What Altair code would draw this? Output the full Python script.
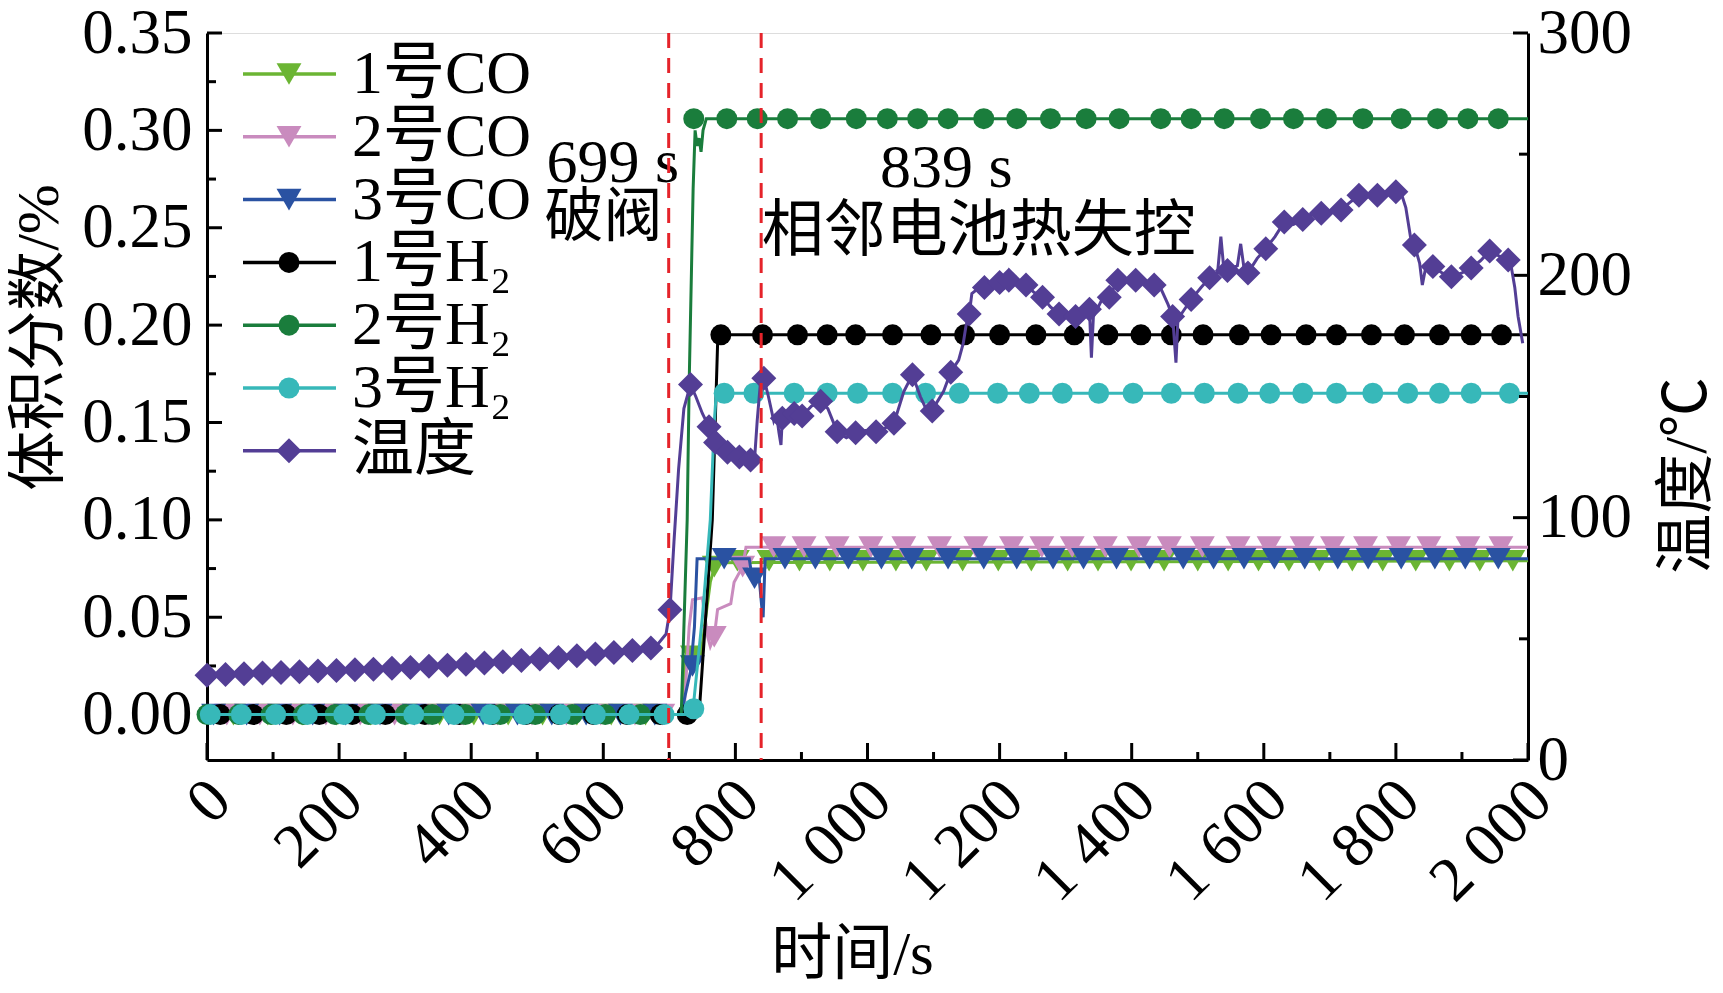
import altair as alt
import pandas as pd

FONT = "Liberation Serif, Noto Sans CJK SC"
W, H = 1321, 727

# ---------------- data ----------------
names = ["1号CO", "2号CO", "3号CO", "1号H₂", "2号H₂", "3号H₂"]
colors = ["#6BB533", "#C98BBE", "#2A52A2", "#000000", "#1A7D3C", "#37B8B9"]
shapes = ["triangle-down", "triangle-down", "triangle-down", "circle", "circle", "circle"]
temp_name = "温度"
temp_color = "#533E95"

# 1号CO
co1_t = [0, 720, 724, 748, 755, 762, 770, 2000]
co1_v = [0, 0, 0.030, 0.031, 0.050, 0.068, 0.078, 0.079]
co1_mt = [40, 92, 144, 196, 248, 300, 352, 404, 456, 508, 560, 612, 664, 735, 768,
          803, 851, 897, 943, 993, 1043, 1089, 1144, 1198, 1248, 1303, 1349, 1399, 1449,
          1500, 1546, 1592, 1638, 1684, 1734, 1780, 1830, 1881, 1927, 1977]
co1_mv = [0] * 13 + [0.030, 0.076] + [0.079] * 25

# 2号CO
co2_t = [0, 722, 730, 735, 750, 758, 762, 768, 773, 793, 798, 811, 816, 2000]
co2_v = [0, 0, 0.045, 0.059, 0.060, 0.040, 0.035, 0.040, 0.054, 0.057, 0.068, 0.076, 0.086, 0.086]
co2_mt = [30, 80, 130, 180, 232, 284, 336, 388, 440, 492, 544, 596, 648, 690, 768, 811,
          858, 904, 954, 1005, 1055, 1109, 1164, 1218, 1264, 1310, 1360, 1411, 1457, 1507,
          1561, 1608, 1658, 1704, 1754, 1804, 1850, 1909, 1959]
co2_mv = [0] * 14 + [0.040, 0.076] + [0.086] * 23

# 3号CO
co3_t = [0, 718, 724, 732, 738, 742, 821, 825, 836, 840, 842, 845, 2000]
co3_v = [0, 0, 0.010, 0.022, 0.045, 0.080, 0.080, 0.071, 0.070, 0.055, 0.050, 0.080, 0.080]
co3_mt = [10, 60, 110, 160, 210, 262, 314, 366, 418, 470, 522, 574, 626, 678, 735, 783, 829,
          875, 921, 971, 1021, 1067, 1122, 1176, 1226, 1281, 1327, 1377, 1427, 1478, 1524,
          1570, 1616, 1662, 1712, 1758, 1808, 1859, 1905, 1955]
co3_mv = [0] * 14 + [0.025, 0.080, 0.070] + [0.080] * 23

# 1号H2
h1_t = [0, 745, 765, 773, 776, 2000]
h1_v = [0, 0, 0.100, 0.190, 0.195, 0.195]
h1_mt = [20, 70, 120, 170, 220, 270, 330, 382, 432, 483, 533, 585, 636, 686, 727,
         778, 841, 894, 939, 982, 1038, 1096, 1147, 1200, 1255, 1313, 1364, 1414, 1460,
         1508, 1563, 1611, 1664, 1710, 1763, 1813, 1866, 1914, 1960]
h1_mv = [0] * 15 + [0.195] * 24

# 2号H2
h2_t = [0, 718, 727, 730, 736, 739, 742, 745, 748, 751, 756, 2000]
h2_v = [0, 0, 0.100, 0.170, 0.270, 0.300, 0.292, 0.296, 0.289, 0.300, 0.306, 0.306]
h2_mt = [0, 48, 97, 146, 194, 245, 300, 341, 391, 444, 497, 553, 603, 656,
         737, 787, 833, 879, 929, 983, 1030, 1076, 1122, 1176, 1226, 1277, 1331, 1381,
         1444, 1490, 1540, 1595, 1645, 1695, 1750, 1808, 1863, 1909, 1955]
h2_mv = [0] * 14 + [0.306] * 25

# 3号H2
h3_t = [0, 735, 750, 762, 768, 771, 2000]
h3_v = [0, 0, 0.050, 0.100, 0.150, 0.165, 0.165]
h3_mt = [5, 52, 104, 152, 207, 255, 313, 374, 429, 480, 535, 588, 639, 692, 737,
         783, 828, 889, 939, 985, 1038, 1088, 1139, 1197, 1245, 1295, 1350, 1402, 1460,
         1510, 1561, 1609, 1659, 1710, 1765, 1818, 1866, 1914, 1972]
h3_mv = [0] * 14 + [0.003] + [0.165] * 24

# temperature (right axis)
temp_t = [0, 50, 100, 150, 200, 250, 300, 350, 400, 450, 500, 550, 600, 650, 680, 695, 701,
          707, 714, 722, 732, 740, 750, 760, 770, 779, 788, 797, 806, 815, 823, 829, 833,
          838, 843, 850, 858, 862, 866, 869, 871, 880, 889, 895, 901, 915, 929, 940, 954,
          968, 982, 997, 1013, 1027, 1040, 1055, 1068, 1080, 1090, 1098, 1106, 1115, 1126,
          1138, 1145, 1149, 1154, 1158, 1165, 1177, 1189, 1200, 1207, 1212, 1214, 1218,
          1227, 1240, 1252, 1265, 1277, 1290, 1303, 1315, 1326, 1336, 1339, 1342, 1355,
          1366, 1379, 1393, 1406, 1420, 1434, 1445, 1455, 1462, 1467, 1470, 1480, 1490,
          1505, 1518, 1530, 1535, 1540, 1545, 1560, 1565, 1570, 1576, 1590, 1603, 1617,
          1631, 1645, 1659, 1673, 1687, 1700, 1717, 1730, 1744, 1758, 1772, 1786, 1800,
          1808, 1815, 1822, 1828, 1836, 1840, 1845, 1856, 1870, 1884, 1900, 1914, 1928,
          1942, 1956, 1970, 1975, 1980, 1985, 1992]
temp_v = [35, 35.5, 36, 36.5, 37, 37.6, 38.3, 39.1, 40, 41, 42, 43.2, 44.4, 45.6, 47, 52, 62,
          90, 120, 145, 155, 150, 143, 137.5, 131, 128, 127, 126, 125, 124, 123.8, 124, 140,
          156, 157.5, 150, 140, 143, 135, 130, 141, 144, 143, 140, 142, 146, 148, 145, 135.5,
          133, 135, 136, 135.5, 137, 139, 152, 159, 150, 144, 144, 148, 152, 160,
          165, 172, 179, 184, 192.5, 194, 195, 196, 197, 195, 199, 201, 197,
          197, 196, 193, 191, 187, 184, 183, 183, 185, 186, 166, 183, 190,
          191, 198, 198.5, 198, 198, 196, 194, 188, 183, 164, 182, 186, 190,
          195, 199, 201, 216, 201, 202, 204, 213, 203, 201, 207, 211, 216,
          222, 221, 223, 225, 225.6, 226, 227, 230, 233, 233, 233, 234, 234.5,
          234, 228, 216, 212.5, 205, 196, 203, 203.6, 201, 199.4, 201, 203, 206,
          210, 208, 206.3, 203, 195, 183, 172]
temp_mt = [0, 28, 56, 84, 112, 140, 168, 196, 224, 252, 280, 308, 336, 364, 392, 420, 448,
           476, 504, 532, 560, 588, 616, 644, 672, 701, 732, 760, 770, 788, 806, 823, 843,
           871, 889, 901, 929, 954, 982, 1013, 1040, 1068, 1098, 1126, 1154, 1177, 1200,
           1214, 1240, 1265, 1290, 1315, 1336, 1366, 1379, 1406, 1434, 1462, 1490, 1518,
           1545, 1576, 1603, 1631, 1659, 1687, 1717, 1744, 1772, 1800, 1828, 1856, 1884,
           1914, 1942, 1970]
temp_mv = [35, 35.3, 35.6, 35.9, 36.1, 36.4, 36.7, 36.9, 37.2, 37.5, 37.9, 38.2, 38.7, 39.1,
           39.5, 40, 40.5, 41.1, 41.7, 42.3, 43, 43.7, 44.4, 45.2, 46.2, 62, 155, 137.5, 131,
           127, 125, 123.8, 157.5, 141, 143, 142, 148, 135.5, 135, 135.5, 139, 159, 144, 160,
           184, 195, 197, 198, 196, 191, 184, 183, 186, 191, 198, 198, 196, 183, 190, 199,
           202, 201, 211, 222, 223, 225.6, 227, 233, 233, 234.5, 212.5, 203.6, 199.4, 203,
           210, 206.3]

event_t = [699, 839]
notes = ["699 s", "破阀", "839 s", "相邻电池热失控"]
notes_t = [514, 511, 1019, 840]
notes_v = [0.283, 0.255, 0.2807, 0.2478]
notes_size = [62, 59, 62, 62]

x_major = list(range(0, 2001, 200))
x_minor = list(range(100, 2000, 200))
yl_major = [0, 0.05, 0.10, 0.15, 0.20, 0.25, 0.30, 0.35]
yl_minor = [0.025, 0.075, 0.125, 0.175, 0.225, 0.275, 0.325]
yr_major = [0, 100, 200, 300]
yr_minor = [50, 150, 250]

series_lines = [(co1_t, co1_v), (co2_t, co2_v), (co3_t, co3_v),
                (h1_t, h1_v), (h2_t, h2_v), (h3_t, h3_v)]
series_marks = [(co1_mt, co1_mv), (co2_mt, co2_mv), (co3_mt, co3_mv),
                (h1_mt, h1_mv), (h2_mt, h2_mv), (h3_mt, h3_mv)]

for a, b in series_lines + series_marks + [(temp_t, temp_v), (temp_mt, temp_mv)]:
    assert len(a) == len(b), (len(a), len(b))

# ---------------- encodings ----------------
x_axis = alt.Axis(values=x_major, labelExpr="replace(format(datum.value, ','), ',', ' ')",
                  labelAngle=315, labelAlign="right", labelBaseline="middle",
                  labelFont=FONT, labelFontSize=63, labelColor="black", labelPadding=30,
                  labelOffset=13,
                  labelFlush=False, labelOverlap=False, ticks=False, grid=False,
                  domainColor="black", domainWidth=3,
                  title="时间/s", titleFont=FONT, titleFontSize=61, titleFontWeight="normal",
                  titleColor="black", titleX=645, titleY=195, titleBaseline="middle")
yl_axis = alt.Axis(values=yl_major, format=".2f", labelFont=FONT, labelFontSize=63,
                   labelColor="black", labelPadding=15, labelFlush=False, labelOverlap=False,
                   ticks=False, grid=False, domainColor="black", domainWidth=3,
                   title="体积分数/%", titleFont=FONT, titleFontSize=60,
                   titleFontWeight="normal", titleColor="black", titleX=-168, titleY=304,
                   titleBaseline="middle", titleAlign="center")
yr_axis = alt.Axis(orient="right", values=yr_major, labelFont=FONT, labelFontSize=63,
                   labelColor="black", labelPadding=9, labelFlush=False, labelOverlap=False,
                   ticks=False, grid=False, domainColor="black", domainWidth=3,
                   title="温度/℃", titleFont=FONT, titleFontSize=60, titleFontWeight="normal",
                   titleColor="black", titleAngle=270, titleX=159, titleY=442,
                   titleBaseline="middle", titleAlign="center")

X = alt.X("t:Q", scale=alt.Scale(domain=[0, 2000], nice=False, zero=False), axis=x_axis)
YL = alt.Y("v:Q", scale=alt.Scale(domain=[-0.0233, 0.35], nice=False, zero=False), axis=yl_axis)
YR = alt.Y("temp:Q", scale=alt.Scale(domain=[0, 300], nice=False, zero=False), axis=yr_axis)

# ---------------- left group ----------------
left_layers = []
xt_df = pd.DataFrame({"t": x_major})
xm_df = pd.DataFrame({"t": x_minor})
left_layers.append(alt.Chart(xt_df).mark_rule(color="black", strokeWidth=3).encode(
    x=X, y=alt.value(H), y2=alt.value(H - 17)))
left_layers.append(alt.Chart(xm_df).mark_rule(color="black", strokeWidth=3).encode(
    x=X, y=alt.value(H), y2=alt.value(H - 8)))
left_layers.append(alt.Chart(pd.DataFrame({"v": yl_major})).mark_rule(color="black", strokeWidth=3).encode(
    y=YL, x=alt.value(0), x2=alt.value(15)))
left_layers.append(alt.Chart(pd.DataFrame({"v": yl_minor})).mark_rule(color="black", strokeWidth=3).encode(
    y=YL, x=alt.value(0), x2=alt.value(9)))

for name, col, shp, (lt, lv), (mt, mv) in zip(names, colors, shapes, series_lines, series_marks):
    ldf = pd.DataFrame({"t": lt, "v": lv})
    mdf = pd.DataFrame({"t": mt, "v": mv})
    left_layers.append(alt.Chart(ldf).mark_line(color=col, strokeWidth=3).encode(x=X, y=YL))
    size = 620 if shp == "triangle-down" else 441
    left_layers.append(alt.Chart(mdf).mark_point(shape=shp, filled=True, opacity=1, size=size,
                                                 color=col).encode(x=X, y=YL))

notes_df = pd.DataFrame({"t": notes_t, "v": notes_v, "txt": notes, "fs": notes_size})
left_layers.append(alt.Chart(notes_df).mark_text(font=FONT, align="left", baseline="middle",
                                                 color="black").encode(
    x=X, y=YL, text="txt:N", size=alt.Size("fs:Q", scale=None, legend=None)))

# legend
leg_names = names + [temp_name]
leg_colors = colors + [temp_color]
leg_shapes = shapes + ["diamond"]
one = pd.DataFrame({"k": [0]})
for i, (nm, col, shp) in enumerate(zip(leg_names, leg_colors, leg_shapes)):
    yy = 41 + 62.8 * i
    size = 620 if shp == "triangle-down" else (441 if shp == "circle" else 625)
    left_layers.append(alt.Chart(one).mark_rule(color=col, strokeWidth=3.5).encode(
        x=alt.value(36), x2=alt.value(129), y=alt.value(yy)))
    left_layers.append(alt.Chart(one).mark_point(shape=shp, filled=True, opacity=1, size=size,
                                                 color=col).encode(x=alt.value(82), y=alt.value(yy)))
    left_layers.append(alt.Chart(one).mark_text(text=nm, font=FONT, fontSize=62, align="left",
                                                baseline="middle", color="black").encode(
        x=alt.value(145), y=alt.value(yy)))

left = alt.layer(*left_layers)

# ---------------- right group ----------------
right_layers = []
right_layers.append(alt.Chart(pd.DataFrame({"temp": yr_major})).mark_rule(color="black", strokeWidth=3).encode(
    y=YR, x=alt.value(W), x2=alt.value(W - 15)))
right_layers.append(alt.Chart(pd.DataFrame({"temp": yr_minor})).mark_rule(color="black", strokeWidth=3).encode(
    y=YR, x=alt.value(W), x2=alt.value(W - 9)))
tdf = pd.DataFrame({"t": temp_t, "temp": temp_v})
tmdf = pd.DataFrame({"t": temp_mt, "temp": temp_mv})
right_layers.append(alt.Chart(tdf).mark_line(color=temp_color, strokeWidth=3).encode(x=X, y=YR))
right_layers.append(alt.Chart(tmdf).mark_point(shape="diamond", filled=True, opacity=1, size=625,
                                               color=temp_color).encode(x=X, y=YR))
right_layers.append(alt.Chart(pd.DataFrame({"t": event_t})).mark_rule(
    color="#E5232A", strokeWidth=3, strokeDash=[15, 10]).encode(x=X))
right = alt.layer(*right_layers)

chart = alt.layer(left, right).resolve_scale(y="independent").properties(
    width=W, height=H,
    autosize=alt.AutoSizeParams(type="none"),
    padding={"left": 199, "top": 25, "right": 187, "bottom": 225},
).configure_view(stroke=None).configure(background="white")

chart.save("out.html", embed_options={"renderer": "svg", "actions": False})
